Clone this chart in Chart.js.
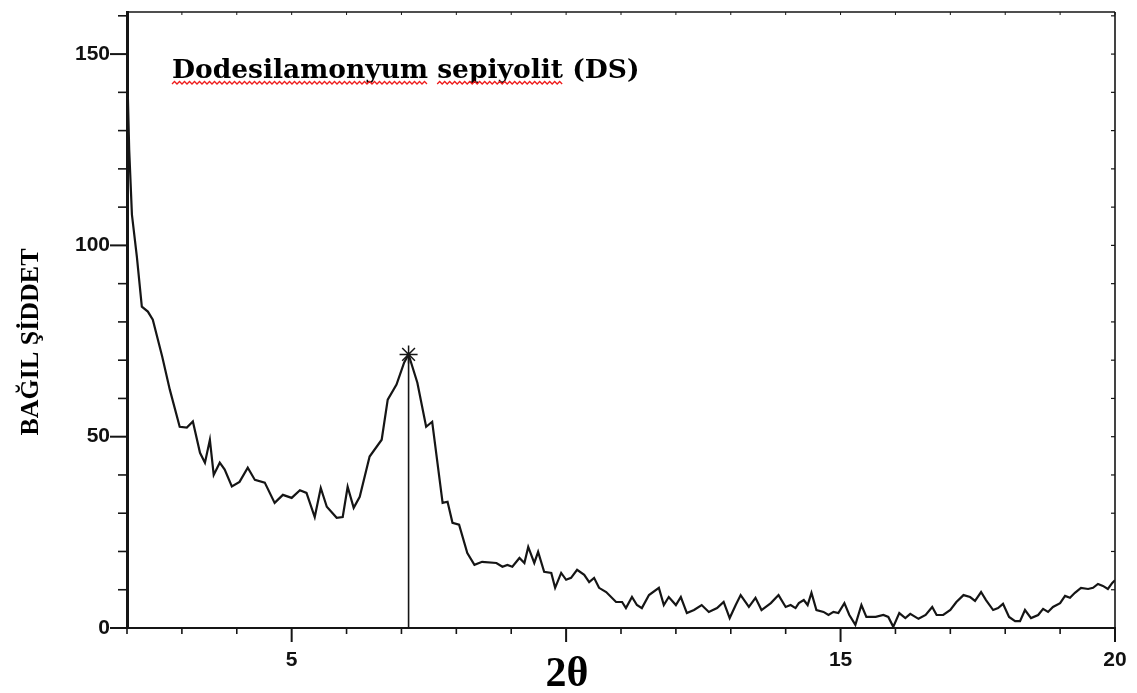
<!DOCTYPE html>
<html>
<head>
<meta charset="utf-8">
<script src="https://cdn.jsdelivr.net/npm/chart.js@4/dist/chart.umd.min.js"></script>
<style>
  html, body { margin: 0; padding: 0; background: #fff; }
  #wrap { width: 1137px; height: 693px; }
</style>
</head>
<body>
<div id="wrap"><canvas id="c" width="1137" height="693"></canvas></div>
<script>
// XRD pattern: relative intensity vs 2θ
const twoTheta = [
  2.00, 2.04, 2.09, 2.18, 2.27, 2.38, 2.47, 2.64, 2.78, 2.96,
  3.09, 3.20, 3.33, 3.42, 3.51, 3.58, 3.69, 3.78, 3.91, 4.05,
  4.20, 4.33, 4.51, 4.69, 4.84, 5.00, 5.15, 5.27, 5.42, 5.53,
  5.64, 5.82, 5.93, 6.02, 6.13, 6.24, 6.42, 6.64, 6.75, 6.91,
  7.05, 7.13, 7.29, 7.45, 7.56, 7.75, 7.84, 7.93, 8.05, 8.20,
  8.33, 8.47, 8.73, 8.84, 8.93, 9.02, 9.15, 9.24, 9.31, 9.42,
  9.49, 9.60, 9.73, 9.80, 9.91, 10.00, 10.09, 10.20, 10.33, 10.42,
  10.51, 10.60, 10.73, 10.91, 11.02, 11.09, 11.20, 11.29, 11.38, 11.51,
  11.69, 11.78, 11.87, 12.00, 12.09, 12.20, 12.33, 12.47, 12.60, 12.75,
  12.87, 12.98, 13.09, 13.18, 13.33, 13.45, 13.56, 13.73, 13.87, 14.00,
  14.09, 14.18, 14.24, 14.33, 14.40, 14.47, 14.56, 14.69, 14.78, 14.87,
  14.96, 15.07, 15.16, 15.27, 15.38, 15.47, 15.64, 15.78, 15.87, 15.96,
  16.07, 16.18, 16.27, 16.42, 16.55, 16.67, 16.75, 16.87, 17.00, 17.11,
  17.24, 17.36, 17.45, 17.56, 17.65, 17.78, 17.87, 17.96, 18.07, 18.18,
  18.27, 18.36, 18.47, 18.60, 18.69, 18.78, 18.87, 19.00, 19.09, 19.18,
  19.27, 19.38, 19.51, 19.60, 19.69, 19.78, 19.87, 19.95, 20.00
];
const intensity = [
  148, 125, 108, 97, 84, 82.7, 80.6, 71, 62.3, 52.6,
  52.4, 54, 45.8, 43.2, 49.2, 40, 43.2, 41.4, 37, 38.2,
  41.9, 38.7, 38, 32.7, 34.8, 34, 36, 35.3, 29, 36.6,
  31.7, 28.8, 29, 36.9, 31.4, 34.3, 44.8, 49.2, 59.7, 63.6,
  69.4, 71.5, 64.1, 52.6, 53.9, 32.7, 33, 27.5, 27, 19.6,
  16.5, 17.3, 17, 16, 16.5, 16, 18.3, 17, 21.2, 17,
  19.9, 14.7, 14.4, 10.5, 14.4, 12.6, 13.1, 15.2, 13.9, 12,
  13.1, 10.5, 9.4, 6.8, 6.8, 5.2, 8.1, 6, 5.2, 8.6,
  10.5, 6, 8.1, 6, 8.1, 3.9, 4.7, 6, 4.2, 5.2,
  6.8, 2.6, 6, 8.6, 5.5, 7.9, 4.7, 6.5, 8.6, 5.5,
  6, 5.2, 6.5, 7.3, 6, 9.2, 4.7, 4.2, 3.4, 4.2,
  3.9, 6.5, 3.4, 0.8, 6, 2.9, 2.9, 3.4, 2.9, 0.3,
  3.9, 2.6, 3.7, 2.4, 3.4, 5.5, 3.4, 3.4, 4.7, 6.8,
  8.6, 8.1, 7.1, 9.4, 7.3, 4.7, 5.2, 6.3, 2.9, 1.8,
  1.8, 4.7, 2.6, 3.4, 5, 4.2, 5.5, 6.5, 8.4, 7.9,
  9.2, 10.5, 10.2, 10.5, 11.5, 11, 10.2, 11.8, 12.5
];

// Marked reflection
const peakTwoTheta = 7.13;
const peakIntensity = 71.5;

// Labelled ticks (the 10° position carries the axis title instead)
const xTickLabels = [5, 15, 20];
const yTickLabels = [0, 50, 100, 150];

const chartTitle = 'Dodesilamonyum sepiyolit (DS)';
const xTitle = '2θ';
const yTitle = 'BAĞIL ŞİDDET';

const INK = '#151515';

// Frame, tick marks, titles
const decor = {
  id: 'decor',
  afterDraw(chart) {
    const { ctx, chartArea: a, scales: { x, y } } = chart;
    const seg = (x1, y1, x2, y2) => { ctx.beginPath(); ctx.moveTo(x1, y1); ctx.lineTo(x2, y2); ctx.stroke(); };
    ctx.save();
    ctx.strokeStyle = INK;

    // top and right edges of the frame
    ctx.lineWidth = 1.6;
    seg(a.left, a.top, a.right, a.top);
    seg(a.right, a.top, a.right, a.bottom);

    // x tick marks every 1°, longer at multiples of 5
    for (let v = Math.ceil(x.min); v <= x.max; v++) {
      const px = x.getPixelForValue(v);
      const major = v % 5 === 0;
      ctx.lineWidth = major ? 2 : 1.6;
      seg(px, a.bottom, px, a.bottom + (major ? 14 : 6));
      ctx.lineWidth = 1;
      seg(px, a.top, px, a.top + 3);
    }
    // y tick marks every 10, longer at multiples of 50
    for (let v = 0; v <= y.max; v += 10) {
      const py = y.getPixelForValue(v);
      const major = v % 50 === 0;
      ctx.lineWidth = major ? 2 : 1.6;
      seg(a.left - (major ? 17 : 9), py, a.left, py);
      ctx.lineWidth = 1.2;
      seg(a.right - 4, py, a.right, py);
    }

    // chart title inside the plot
    ctx.fillStyle = '#000';
    ctx.font = 'bold 26.5px "DejaVu Serif"';
    ctx.textAlign = 'left';
    ctx.textBaseline = 'alphabetic';
    const tx = a.left + 45, ty = 78;
    ctx.fillText(chartTitle, tx, ty);

    // wavy red underline under the first two words
    const words = chartTitle.split(' ');
    const w1 = ctx.measureText(words[0]).width;
    const wSpace = ctx.measureText(words[0] + ' ').width;
    const w2 = ctx.measureText(words[1]).width;
    const wave = (x0, x1, yb) => {
      ctx.beginPath();
      let up = true;
      ctx.moveTo(x0, yb);
      for (let xx = x0 + 2.5; xx <= x1; xx += 2.5) {
        ctx.lineTo(xx, up ? yb - 2.5 : yb);
        up = !up;
      }
      ctx.stroke();
    };
    ctx.strokeStyle = '#ee1c1c';
    ctx.lineWidth = 1.3;
    wave(tx, tx + w1, ty + 6);
    wave(tx + wSpace, tx + wSpace + w2, ty + 6);

    // axis titles
    ctx.fillStyle = '#000';
    ctx.font = 'bold 42px "Liberation Serif"';
    ctx.textAlign = 'center';
    ctx.textBaseline = 'middle';
    ctx.fillText(xTitle, 567, 675);

    ctx.save();
    ctx.translate(31, 342);
    ctx.rotate(-Math.PI / 2);
    ctx.font = 'bold 26px "Liberation Serif"';
    ctx.fillText(yTitle, 0, 0);
    ctx.restore();

    ctx.restore();
  }
};

const tickFont = { family: '"Liberation Sans", Arial, sans-serif', size: 21, weight: 'bold' };

new Chart(document.getElementById('c'), {
  type: 'scatter',
  data: {
    datasets: [
      {
        data: twoTheta.map((t, i) => ({ x: t, y: intensity[i] })),
        showLine: true,
        borderColor: INK,
        borderWidth: 2.2,
        pointRadius: 0,
        tension: 0
      },
      {
        data: [{ x: peakTwoTheta, y: 0 }, { x: peakTwoTheta, y: peakIntensity }],
        showLine: true,
        borderColor: INK,
        borderWidth: 1.6,
        pointRadius: [0, 9],
        pointStyle: 'star',
        pointBorderColor: INK,
        pointBorderWidth: 1.5,
        pointBackgroundColor: INK
      }
    ]
  },
  options: {
    responsive: false,
    devicePixelRatio: 1,
    animation: false,
    events: [],
    layout: { padding: { left: 0, top: 12, right: 22, bottom: 0 } },
    plugins: { legend: { display: false }, tooltip: { enabled: false }, title: { display: false } },
    scales: {
      x: {
        type: 'linear',
        min: 2,
        max: 20,
        afterFit: s => { s.height = 65; s.paddingLeft = 0; s.paddingRight = 0; },
        afterBuildTicks: s => { s.ticks = xTickLabels.map(v => ({ value: v })); },
        grid: { display: false, drawTicks: false },
        border: { display: true, color: INK, width: 2 },
        ticks: { font: tickFont, color: '#111', padding: 20, maxRotation: 0, autoSkip: false }
      },
      y: {
        type: 'linear',
        min: 0,
        max: 161,
        afterFit: s => { s.width = 127; s.paddingTop = 0; s.paddingBottom = 0; },
        afterBuildTicks: s => { s.ticks = yTickLabels.map(v => ({ value: v })); },
        grid: { display: false, drawTicks: false },
        border: { display: true, color: INK, width: 3 },
        ticks: { font: tickFont, color: '#111', padding: 17, autoSkip: false }
      }
    }
  },
  plugins: [decor]
});
</script>
</body>
</html>
